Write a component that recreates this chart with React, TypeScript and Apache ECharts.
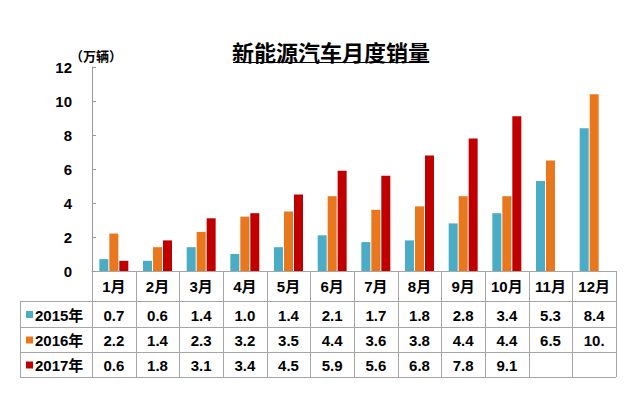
import React, { useEffect, useRef } from "react";
import * as echarts from "echarts";

const months = ["1月", "2月", "3月", "4月", "5月", "6月", "7月", "8月", "9月", "10月", "11月", "12月"];
const seriesNames = ["2015年", "2016年", "2017年"];
const sales2015 = [0.7, 0.6, 1.4, 1.0, 1.4, 2.1, 1.7, 1.8, 2.8, 3.4, 5.3, 8.4];
const sales2016 = [2.2, 1.4, 2.3, 3.2, 3.5, 4.4, 3.6, 3.8, 4.4, 4.4, 6.5, 10.4];
const sales2017 = [0.6, 1.8, 3.1, 3.4, 4.5, 5.9, 5.6, 6.8, 7.8, 9.1, null, null];
const colors = ["#4BACC6", "#E8771E", "#C00000"];
const titleText = "新能源汽车月度销量";
const unitText = "（万辆）";
const yMin = 0;
const yMax = 12;
const yInterval = 2;

const FONT = "'Liberation Sans', Arial, 'Noto Sans CJK SC', sans-serif";
const CJK = "'Noto Sans CJK SC', 'Liberation Sans', sans-serif";

// Excel-like cell overflow: a number too wide for the cell is clipped
const fmt = (v: number | null) => {
  if (v === null || v === undefined) return "";
  const s = v.toFixed(1);
  return v >= 10 ? s.slice(0, 3) : s;
};

export default function App() {
  const ref = useRef<HTMLDivElement>(null);
  useEffect(() => {
    if (!ref.current) return;
    const chart = echarts.init(ref.current, null, { renderer: "svg" });
    const W = 640;
    const gridLeft = 92;
    const gridRight = 616;
    const gridTop = 67;
    const gridBottom = 271;
    const catW = (gridRight - gridLeft) / months.length;
    const rowLines = [301, 327, 352, 377];
    const tableLeft = 20;
    const border = "#A6A6A6";
    const allSeries = [sales2015, sales2016, sales2017];

    const graphics: any[] = [];
    // title
    graphics.push({
      type: "text",
      x: 331,
      y: 51,
      style: {
        text: titleText,
        font: `bold 22px ${CJK}`,
        fill: "#000",
        align: "center",
        verticalAlign: "middle",
      },
    });
    graphics.push({
      type: "line",
      shape: { x1: 233, y1: 62.5, x2: 429, y2: 62.5 },
      style: { stroke: "#000", lineWidth: 1.2 },
    });
    graphics.push({
      type: "text",
      x: 70,
      y: 55,
      style: {
        text: unitText,
        font: `bold 13px ${CJK}`,
        fill: "#000",
        align: "left",
        verticalAlign: "middle",
      },
    });
    // table horizontal lines
    rowLines.forEach((y) => {
      graphics.push({
        type: "line",
        shape: { x1: tableLeft, y1: y + 0.5, x2: gridRight, y2: y + 0.5 },
        style: { stroke: border, lineWidth: 1 },
      });
    });
    // vertical lines
    graphics.push({
      type: "line",
      shape: { x1: tableLeft + 0.5, y1: rowLines[0], x2: tableLeft + 0.5, y2: rowLines[3] },
      style: { stroke: border, lineWidth: 1 },
    });
    for (let i = 0; i <= months.length; i++) {
      const x = Math.round(gridLeft + i * catW) + 0.5;
      graphics.push({
        type: "line",
        shape: { x1: x, y1: gridBottom, x2: x, y2: rowLines[3] },
        style: { stroke: border, lineWidth: 1 },
      });
    }
    // row headers and values
    seriesNames.forEach((name, r) => {
      const cy = (rowLines[r] + rowLines[r + 1]) / 2 + 1;
      graphics.push({
        type: "rect",
        shape: { x: 26, y: cy - 4, width: 7, height: 7 },
        style: { fill: colors[r] },
      });
      graphics.push({
        type: "text",
        x: 35,
        y: cy,
        style: {
          text: name,
          font: `bold 15px ${FONT}`,
          fill: "#000",
          align: "left",
          verticalAlign: "middle",
        },
      });
      allSeries[r].forEach((v, i) => {
        graphics.push({
          type: "text",
          x: gridLeft + (i + 0.5) * catW,
          y: cy,
          style: {
            text: fmt(v as number | null),
            font: `bold 15px ${FONT}`,
            fill: "#000",
            align: "center",
            verticalAlign: "middle",
          },
        });
      });
    });

    chart.setOption({
      animation: false,
      backgroundColor: "#fff",
      grid: {
        left: gridLeft,
        right: W - gridRight,
        top: gridTop,
        bottom: 393 - gridBottom,
        containLabel: false,
      },
      xAxis: {
        type: "category",
        data: months,
        axisLine: { lineStyle: { color: border, width: 1 } },
        axisTick: { show: false },
        axisLabel: {
          margin: 8,
          fontSize: 15,
          fontWeight: "bold",
          color: "#000",
          fontFamily: FONT,
          interval: 0,
        },
        splitLine: { show: false },
      },
      yAxis: {
        type: "value",
        min: yMin,
        max: yMax,
        interval: yInterval,
        axisLine: { show: true, lineStyle: { color: "#999", width: 1 } },
        axisTick: { show: true, inside: true, length: 4, lineStyle: { color: "#999" } },
        axisLabel: {
          margin: 20,
          fontSize: 15,
          fontWeight: "bold",
          color: "#000",
          fontFamily: FONT,
        },
        splitLine: { show: false },
      },
      series: allSeries.map((d, r) => ({
        name: seriesNames[r],
        type: "bar",
        data: d,
        barWidth: 9,
        barGap: "11%",
        itemStyle: { color: colors[r] },
      })),
      graphic: graphics,
    });
    return () => chart.dispose();
  }, []);
  return <div ref={ref} style={{ width: 640, height: 393, position: "absolute", left: 0, top: 0 }} />;
}
